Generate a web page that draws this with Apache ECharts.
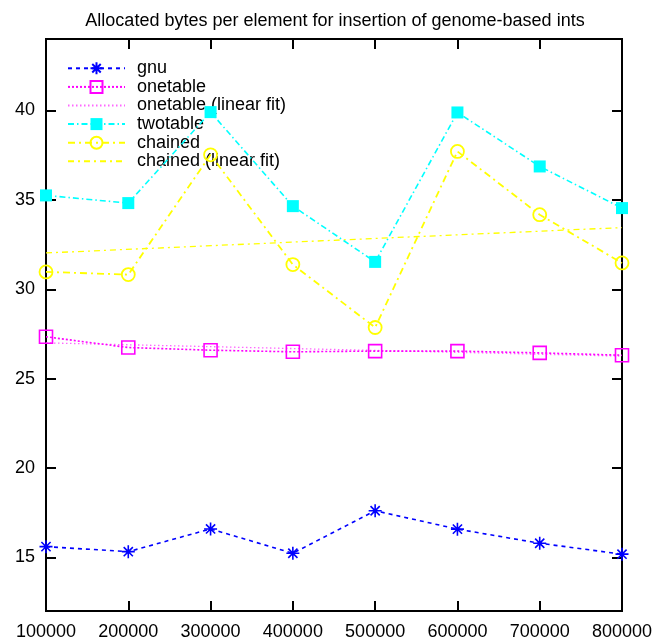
<!DOCTYPE html>
<html>
<head>
<meta charset="utf-8">
<script src="https://cdn.jsdelivr.net/npm/echarts@6/dist/echarts.min.js"></script>
<style>
  html, body { margin: 0; padding: 0; background: #fff; }
  #chart { width: 670px; height: 643px; }
</style>
</head>
<body>
<div id="chart"></div>
<script>
// Number of inserted elements
const sizes = [100000, 200000, 300000, 400000, 500000, 600000, 700000, 800000];

// Allocated bytes per element, one list per hash table
const gnu      = [15.60, 15.32, 16.59, 15.23, 17.61, 16.58, 15.79, 15.18];
const onetable = [27.34, 26.74, 26.59, 26.50, 26.54, 26.54, 26.44, 26.31];
const twotable = [35.25, 34.82, 39.91, 34.65, 31.53, 39.89, 36.87, 34.54];
const chained  = [30.97, 30.82, 37.52, 31.38, 27.86, 37.71, 34.17, 31.47];

// Linear fits, given by their end points
const fitSizes    = [100000, 800000];
const onetableFit = [27.00, 26.26];
const chainedFit  = [32.03, 33.45];

// Axis ticks
const xTicks = [100000, 200000, 300000, 400000, 500000, 600000, 700000, 800000];
const yTicks = [15, 20, 25, 30, 35, 40];

const FONT = '"Liberation Sans", Arial, Helvetica, sans-serif';

const pairs = (xs, ys) => xs.map((x, i) => [x, ys[i]]);

const asterisk = 'path://M0 6H12M6 0V12M1.76 1.76L10.24 10.24M10.24 1.76L1.76 10.24';

const chart = echarts.init(document.getElementById('chart'), null, { renderer: 'canvas' });

const axisLine = { show: true, lineStyle: { color: '#000', width: 2 } };
const tickStyle = { show: true, inside: true, length: 10, lineStyle: { color: '#000', width: 2 } };

chart.setOption({
  animation: false,
  backgroundColor: '#fff',
  title: {
    text: 'Allocated bytes per element for insertion of genome-based ints',
    left: 'center',
    top: 7,
    textStyle: { fontFamily: FONT, fontSize: 18, fontWeight: 'normal', color: '#000' }
  },
  grid: {
    left: 46, right: 48, top: 39, bottom: 32,
    show: true, borderColor: '#000', borderWidth: 2, backgroundColor: 'transparent'
  },
  legend: {
    orient: 'vertical',
    left: 62, top: 54,
    itemWidth: 57, itemHeight: 15, itemGap: 0,
    textStyle: { fontFamily: FONT, fontSize: 18, color: '#000', lineHeight: 18.6, padding: [0, 0, 0, 7] },
    data: [
      'gnu',
      'onetable',
      { name: 'onetable (linear fit)', itemStyle: { opacity: 0 } },
      'twotable',
      'chained',
      { name: 'chained (linear fit)', itemStyle: { opacity: 0 } }
    ]
  },
  xAxis: [
    {
      type: 'value', position: 'bottom',
      min: 100000, max: 800000, interval: 100000,
      axisLine, axisTick: tickStyle, splitLine: { show: false },
      axisLabel: {
        customValues: xTicks,
        margin: 12, fontFamily: FONT, fontSize: 18, color: '#000',
        formatter: v => String(v)
      }
    },
    {
      type: 'value', position: 'top',
      min: 100000, max: 800000, interval: 100000,
      axisLine, axisTick: tickStyle, splitLine: { show: false },
      axisLabel: { show: false }
    }
  ],
  yAxis: [
    {
      type: 'value', position: 'left',
      min: 12, max: 44,
      axisLine,
      axisTick: Object.assign({ customValues: yTicks }, tickStyle),
      splitLine: { show: false },
      axisLabel: {
        customValues: yTicks,
        margin: 11, fontFamily: FONT, fontSize: 18, color: '#000'
      }
    },
    {
      type: 'value', position: 'right',
      min: 12, max: 44,
      axisLine,
      axisTick: Object.assign({ customValues: yTicks }, tickStyle),
      splitLine: { show: false },
      axisLabel: { show: false, customValues: yTicks }
    }
  ],
  series: [
    {
      name: 'gnu', type: 'line',
      data: pairs(sizes, gnu),
      symbol: asterisk, symbolSize: 13,
      itemStyle: { color: '#0000ff', borderColor: '#0000ff', borderWidth: 1.6 },
      lineStyle: { color: '#0000ff', width: 1.6, type: [4, 4] },
      z: 6
    },
    {
      name: 'onetable', type: 'line',
      data: pairs(sizes, onetable),
      symbol: 'rect', symbolSize: 13,
      itemStyle: { color: 'rgba(255,255,255,0)', borderColor: '#ff00ff', borderWidth: 1.6 },
      lineStyle: { color: '#ff00ff', width: 1.6, type: [2, 2] },
      z: 5
    },
    {
      name: 'onetable (linear fit)', type: 'line',
      data: pairs(fitSizes, onetableFit),
      symbol: 'none',
      itemStyle: { color: '#ff66ff' },
      lineStyle: { color: '#ff66ff', width: 1.3, type: [1.5, 2.5] },
      z: 4
    },
    {
      name: 'twotable', type: 'line',
      data: pairs(sizes, twotable),
      symbol: 'rect', symbolSize: 12,
      itemStyle: { color: '#00ffff', borderWidth: 0 },
      lineStyle: { color: '#00ffff', width: 1.6, type: [6, 3, 1.5, 3] },
      z: 5
    },
    {
      name: 'chained', type: 'line',
      data: pairs(sizes, chained),
      symbol: 'circle', symbolSize: 13,
      itemStyle: { color: 'rgba(255,255,255,0)', borderColor: '#ffff00', borderWidth: 1.8 },
      lineStyle: { color: '#ffff00', width: 1.8, type: [7, 4, 2, 4] },
      z: 5
    },
    {
      name: 'chained (linear fit)', type: 'line',
      data: pairs(fitSizes, chainedFit),
      symbol: 'none',
      itemStyle: { color: '#ffff00' },
      lineStyle: { color: '#ffff00', width: 1.3, type: [6, 4, 2, 4] },
      z: 4
    }
  ]
});
</script>
</body>
</html>
